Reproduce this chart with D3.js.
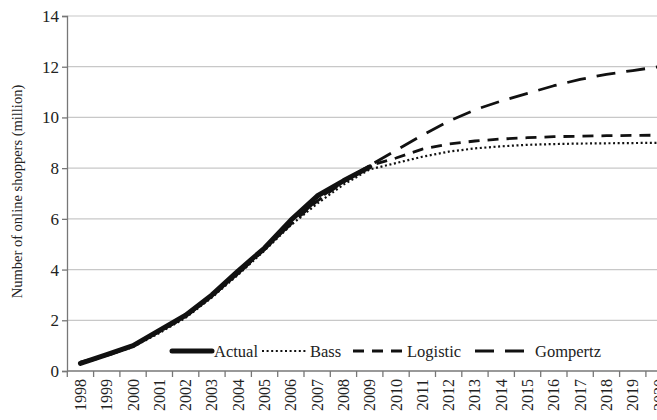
<!DOCTYPE html>
<html>
<head>
<meta charset="utf-8">
<script src="https://cdn.jsdelivr.net/npm/d3@7/dist/d3.min.js"></script>
<style>
  html, body { margin: 0; padding: 0; background: #fff; }
  svg { display: block; }
</style>
</head>
<body>
<svg id="chart" width="657" height="420"></svg>
<script>
// Years on the category axis
const years = ["1998","1999","2000","2001","2002","2003","2004","2005","2006","2007","2008",
  "2009","2010","2011","2012","2013","2014","2015","2016","2017","2018","2019","2020"];

// Observed online shoppers (million), 1998–2009
const actual = [0.3, 0.65, 1.0, 1.6, 2.2, 3.0, 3.95, 4.85, 5.95, 6.9, 7.5, 8.05];

// Model fits and forecasts, 1998–2020
const bass = [0.3, 0.6, 0.95, 1.5, 2.1, 2.9, 3.8, 4.75, 5.75, 6.6, 7.35, 7.95,
  8.2, 8.45, 8.65, 8.78, 8.86, 8.92, 8.95, 8.97, 8.98, 8.99, 9.0];
const logistic = [0.35, 0.62, 0.98, 1.55, 2.15, 2.95, 3.85, 4.8, 5.8, 6.7, 7.45, 8.1,
  8.4, 8.75, 8.95, 9.07, 9.15, 9.2, 9.24, 9.26, 9.28, 9.29, 9.3];
const gompertz = [0.3, 0.6, 1.0, 1.55, 2.15, 2.95, 3.85, 4.8, 5.8, 6.75, 7.5, 8.1,
  8.7, 9.3, 9.85, 10.3, 10.65, 10.95, 11.25, 11.5, 11.7, 11.85, 12.0];

const yTicks = [0, 2, 4, 6, 8, 10, 12, 14];
const yTitle = "Number of online shoppers (million)";

const FONT = "Liberation Serif";
const INK = "#222";

const svg = d3.select("#chart");
const margin = { left: 67, top: 16, bottom: 49 };
const height = 420;
const plotBottom = height - margin.bottom;

const x = d3.scaleBand().domain(years).range([67.3, 67.3 + 26.3 * years.length]).padding(0);
const y = d3.scaleLinear().domain([0, 14]).range([plotBottom, margin.top]);

// Horizontal gridlines
svg.append("g")
  .selectAll("line")
  .data(yTicks.filter(d => d > 0))
  .join("line")
  .attr("x1", margin.left).attr("x2", 657)
  .attr("y1", d => y(d)).attr("y2", d => y(d))
  .attr("stroke", "#c8c8c8").attr("stroke-width", 1.2);

// Y axis
const yAxis = svg.append("g")
  .attr("transform", `translate(${margin.left},0)`)
  .call(d3.axisLeft(y).tickValues(yTicks).tickSize(5).tickPadding(3))
  .attr("font-family", FONT)
  .attr("font-size", 17);
yAxis.select(".domain").attr("stroke", "#777").attr("stroke-width", 1.3);
yAxis.selectAll(".tick line").attr("stroke", "#777").attr("stroke-width", 1.3);
yAxis.selectAll(".tick text").attr("fill", INK);

// X axis with ticks on the category boundaries
const xAxis = svg.append("g")
  .attr("transform", `translate(0,${plotBottom})`)
  .attr("font-family", FONT)
  .attr("font-size", 16);
xAxis.append("line")
  .attr("x1", margin.left).attr("x2", 657)
  .attr("y1", 0).attr("y2", 0)
  .attr("stroke", "#777").attr("stroke-width", 1.3);
xAxis.selectAll("line.tick")
  .data(years)
  .join("line")
  .attr("class", "tick")
  .attr("x1", d => x(d)).attr("x2", d => x(d))
  .attr("y1", 0).attr("y2", 6)
  .attr("stroke", "#777").attr("stroke-width", 1.3);
xAxis.selectAll("text")
  .data(years)
  .join("text")
  .attr("transform", d => `translate(${x(d) + x.bandwidth() / 2 + 5.5},8) rotate(-90)`)
  .attr("text-anchor", "end")
  .attr("fill", INK)
  .text(d => d);

// Y axis title
svg.append("text")
  .attr("transform", `translate(22,${(margin.top + plotBottom) / 2 - 2}) rotate(-90)`)
  .attr("text-anchor", "middle")
  .attr("font-family", FONT)
  .attr("font-size", 14.5)
  .attr("fill", INK)
  .text(yTitle);

const cx = (d, i) => x(years[i]) + x.bandwidth() / 2;
const line = d3.line().x(cx).y(d => y(d));

const series = [
  { name: "Bass", values: bass, width: 2.2, dash: "2,2.6", cap: "butt" },
  { name: "Logistic", values: logistic, width: 2.8, dash: "11,8", cap: "butt" },
  { name: "Gompertz", values: gompertz, width: 2.8, dash: "19,11", cap: "butt" },
  { name: "Actual", values: actual, width: 5, dash: null, cap: "round" }
];

svg.append("g")
  .selectAll("path")
  .data(series)
  .join("path")
  .attr("d", d => line(d.values))
  .attr("fill", "none")
  .attr("stroke", "#111")
  .attr("stroke-width", d => d.width)
  .attr("stroke-dasharray", d => d.dash)
  .attr("stroke-linecap", d => d.cap)
  .attr("stroke-linejoin", "round");

// Legend
const legendItems = [
  { s: series[3], x0: 172, x1: 212, tx: 214 },
  { s: series[0], x0: 262, x1: 307, tx: 310 },
  { s: series[1], x0: 353, x1: 403, tx: 407 },
  { s: series[2], x0: 475, x1: 530, tx: 535 }
];
const legendY = 351;
const lg = svg.append("g")
  .attr("font-family", FONT)
  .attr("font-size", 16.5);
legendItems.forEach(it => {
  lg.append("line")
    .attr("x1", it.x0).attr("x2", it.x1)
    .attr("y1", legendY).attr("y2", legendY)
    .attr("stroke", "#111")
    .attr("stroke-width", it.s.width)
    .attr("stroke-dasharray", it.s.dash)
    .attr("stroke-linecap", it.s.cap);
  lg.append("text")
    .attr("x", it.tx).attr("y", legendY + 5.5)
    .attr("fill", INK)
    .text(it.s.name);
});
</script>
</body>
</html>
